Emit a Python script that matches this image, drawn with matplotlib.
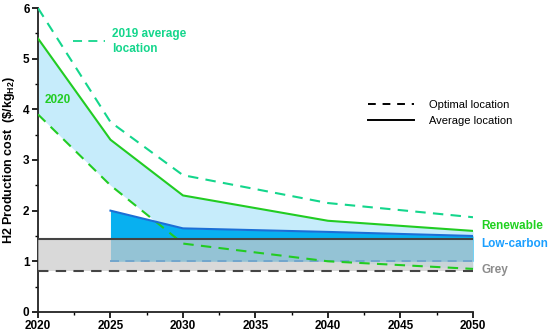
import numpy as np
import matplotlib
matplotlib.use("Agg")
import matplotlib.pyplot as plt
import matplotlib.ticker as ticker
from matplotlib.lines import Line2D

plt.rcParams['font.family'] = ['Liberation Sans', 'DejaVu Sans']
plt.rcParams['mathtext.fontset'] = 'custom'
plt.rcParams['mathtext.bf'] = 'Liberation Sans:bold'
plt.rcParams['mathtext.rm'] = 'Liberation Sans'

# Data
years = [2020, 2025, 2030, 2040, 2050]
renew_avg = [5.4, 3.4, 2.3, 1.8, 1.6]
renew_opt = [3.9, 2.5, 1.35, 1.0, 0.85]
renew_2019 = [6.0, 3.75, 2.7, 2.15, 1.87]

lowc_years = [2025, 2030, 2040, 2050]
lowc_avg = [2.0, 1.65, 1.58, 1.5]
lowc_opt = [1.0, 1.0, 1.0, 1.0]

grey_years = [2020, 2050]
grey_avg = [1.45, 1.45]
grey_opt = [0.8, 0.8]

# Colours
green = "#22cc22"
teal = "#14d68c"
blue_fill = "#08b0f0"
blue_line = "#1c6fd6"
light_blue = "#c6ecfb"

fig = plt.figure(figsize=(5.5, 3.34), dpi=100)
ax = fig.add_axes([0.069, 0.066, 0.791, 0.91])

dash = (0, (5, 3.5))

# Fills
ax.fill_between(years, renew_opt, renew_avg, color=light_blue, lw=0, zorder=1)
ax.fill_between(lowc_years, lowc_opt, lowc_avg, color=blue_fill, lw=0, zorder=2)
ax.fill_between(grey_years, grey_opt, grey_avg, color="#cbcbcb", alpha=0.72, lw=0, zorder=3)

# Lines
ax.plot(years, renew_avg, color=green, lw=1.5, zorder=5)
ax.plot(years, renew_opt, color=green, lw=1.5, ls=dash, zorder=5)
ax.plot(years, renew_2019, color=teal, lw=1.5, ls=dash, zorder=5)
ax.plot(lowc_years, lowc_avg, color=blue_line, lw=1.5, zorder=5)
ax.plot(lowc_years, lowc_opt, color="#6fa3cc", lw=1.3, ls=dash, zorder=4)
ax.plot(grey_years, grey_avg, color="#444444", lw=1.5, zorder=5)
ax.plot(grey_years, grey_opt, color="#444444", lw=1.5, ls=dash, zorder=5)

# Annotations
ax.plot([2022.4, 2024.6], [5.34, 5.34], color=teal, lw=1.3, ls=dash)
ax.text(2025.1, 5.34, "2019 average\nlocation", color=teal, fontsize=8.5,
        fontweight="bold", va="center", ha="left", linespacing=1.25)
ax.text(2020.45, 4.18, "2020", color=green, fontsize=8.5, fontweight="bold",
        va="center", ha="left")
ax.text(2050.6, 1.69, "Renewable", color="#1fd11f", fontsize=8.5,
        fontweight="bold", va="center", ha="left", clip_on=False)
ax.text(2050.6, 1.34, "Low-carbon", color="#1a9fff", fontsize=8.5,
        fontweight="bold", va="center", ha="left", clip_on=False)
ax.text(2050.6, 0.83, "Grey", color="#8c8c8c", fontsize=8.5,
        fontweight="bold", va="center", ha="left", clip_on=False)

handles = [Line2D([], [], color="black", lw=1.4, ls=(0, (4, 3.5))),
           Line2D([], [], color="black", lw=1.4)]
ax.legend(handles, ["Optimal location", "Average location"], loc="center left",
          bbox_to_anchor=(0.735, 0.655), frameon=False, fontsize=8,
          handlelength=4.2, handletextpad=1.3, labelspacing=0.5)

# Axes
ax.set_xlim(2020, 2050)
ax.set_ylim(0, 6)
ax.xaxis.set_major_locator(ticker.MultipleLocator(5))
ax.xaxis.set_minor_locator(ticker.MultipleLocator(2.5))
ax.yaxis.set_major_locator(ticker.MultipleLocator(1))
ax.yaxis.set_minor_locator(ticker.MultipleLocator(0.5))
for s in ["top", "right"]:
    ax.spines[s].set_visible(False)
for s in ["left", "bottom"]:
    ax.spines[s].set_linewidth(1.3)
    ax.spines[s].set_color("#222222")
ax.tick_params(which="major", length=4, width=1.2, labelsize=8.5, pad=2)
ax.tick_params(which="minor", length=2.5, width=1.0)
for lab in ax.get_xticklabels() + ax.get_yticklabels():
    lab.set_fontweight("bold")
ax.set_ylabel(r"H2 Production cost  (\$/kg$_{\mathbf{H2}}$)", fontsize=9,
              fontweight="bold", labelpad=4)

fig.savefig("out.png", dpi=100)
